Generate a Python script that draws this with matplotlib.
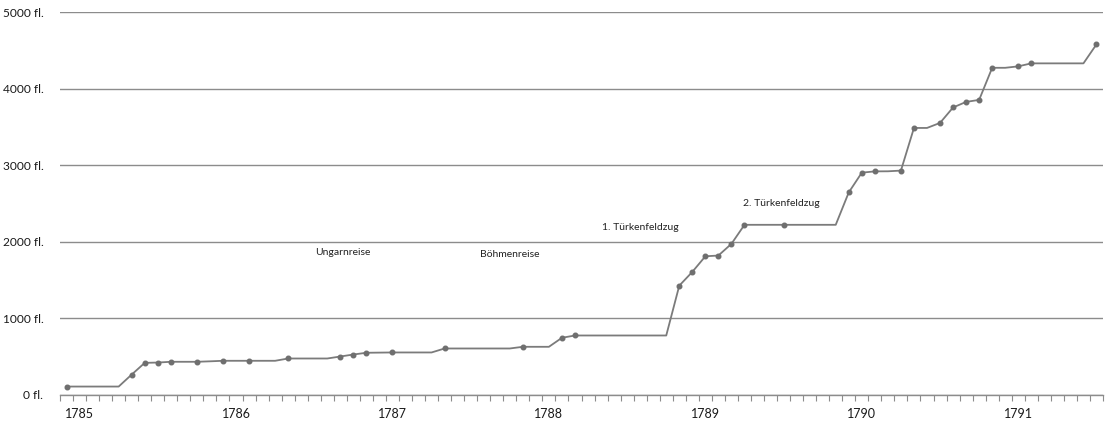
import matplotlib
matplotlib.use("Agg")
import matplotlib.pyplot as plt
from matplotlib.ticker import FixedLocator, FuncFormatter

# monthly balance (fl.), one value per month starting Dec 1784
values = [104, 104, 104, 104, 104, 261, 414, 418, 428, 428,
          428, 434, 441, 441, 441, 441, 441, 471, 471, 471,
          471, 497, 523, 546, 548, 550, 550, 550, 550, 602,
          602, 602, 602, 602, 602, 624, 624, 624, 742, 772,
          772, 772, 772, 772, 772, 772, 772, 1424, 1604, 1808,
          1818, 1971, 2220, 2220, 2220, 2220, 2220, 2220, 2220, 2220,
          2644, 2902, 2919, 2920, 2929, 3487, 3487, 3553, 3755, 3828,
          3854, 4274, 4274, 4293, 4332, 4332, 4332, 4332, 4332, 4581]
# months that carry an actual entry (drawn with a marker)
marked = [0, 5, 6, 7, 8, 10, 12, 14, 17, 21, 22, 23, 25, 29, 35, 38, 39,
          47, 48, 49, 50, 51, 52, 55, 60, 61, 62, 64, 65, 67, 68, 69, 70,
          71, 73, 74, 79]
years = ["1785", "1786", "1787", "1788", "1789", "1790", "1791"]
year_pos = [1, 13, 25, 37, 49, 61, 73]
events = ["Ungarnreise", "Böhmenreise", "1. Türkenfeldzug", "2. Türkenfeldzug"]
event_x = [21.2, 34.0, 44.0, 54.8]
event_y = [1857, 1831, 2189, 2504]

plt.rcParams['font.family'] = ['Lato', 'DejaVu Sans']

fig = plt.figure(figsize=(11.10, 4.21), dpi=100)
ax = fig.add_axes([60 / 1110, 1 - 394.5 / 421, 1043 / 1110, (394.5 - 12.3) / 421])

x = list(range(len(values)))
ax.plot(x, values, color='#7b7b7b', lw=1.3, zorder=3)
ax.plot(marked, [values[i] for i in marked], 'o', color='#6f6f6f', ms=3.3, zorder=4)

for t, ex, ey in zip(events, event_x, event_y):
    ax.text(ex, ey, t, ha='center', va='center', fontsize=7.5, color='#222222')

ax.set_xlim(-0.5, len(values) - 0.5)
ax.set_ylim(0, 5000)
ax.set_yticks([0, 1000, 2000, 3000, 4000, 5000])
ax.yaxis.set_major_formatter(FuncFormatter(lambda v, p: f"{int(v)} fl."))
ax.grid(axis='y', color='#8c8c8c', lw=1.0)
ax.set_axisbelow(True)
ax.tick_params(axis='y', length=0, pad=12, labelsize=8.6, labelcolor='#1a1a1a')

ax.xaxis.set_major_locator(FixedLocator(year_pos))
ax.set_xticklabels(years)
ax.xaxis.set_minor_locator(FixedLocator([i - 0.5 for i in range(len(values) + 1)]))
ax.tick_params(axis='x', which='major', length=0, pad=10, labelsize=9, labelcolor='#1a1a1a')
ax.tick_params(axis='x', which='minor', length=4.5, width=0.8, color='#8c8c8c', direction='out')

for s in ['top', 'right', 'left']:
    ax.spines[s].set_visible(False)
ax.spines['bottom'].set_color('#8c8c8c')
ax.spines['bottom'].set_linewidth(1.0)

fig.savefig('out.png', dpi=100)
